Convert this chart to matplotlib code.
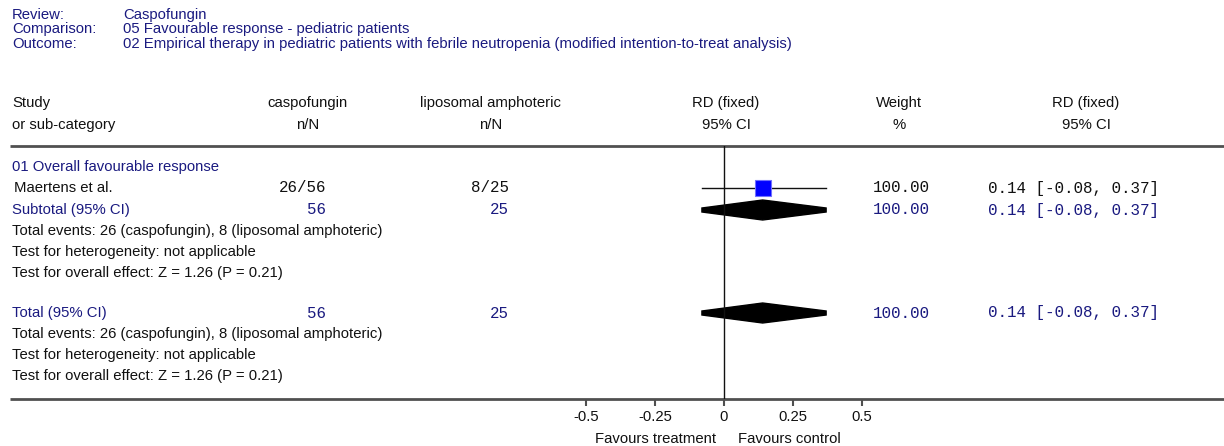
import matplotlib
matplotlib.use("Agg")
import matplotlib.pyplot as plt
from matplotlib.patches import Polygon

# review info
meta_labels = ["Review:", "Comparison:", "Outcome:"]
meta_values = ["Caspofungin",
               "05 Favourable response - pediatric patients",
               "02 Empirical therapy in pediatric patients with febrile neutropenia "
               "(modified intention-to-treat analysis)"]

# study data
group_name = "01 Overall favourable response"
studies = ["Maertens et al."]
events_t = [26]
n_t = [56]
events_c = [8]
n_c = [25]
rd = [0.14]
ci_lo = [-0.08]
ci_hi = [0.37]
weights = [100.00]

# pooled
pooled_rd = 0.14
pooled_lo = -0.08
pooled_hi = 0.37
pooled_w = 100.00
z_val = 1.26
p_val = 0.21
treat_name = "caspofungin"
ctrl_name = "liposomal amphoteric"

ticks = [-0.5, -0.25, 0, 0.25, 0.5]
tick_labels = ["-0.5", "-0.25", "0", "0.25", "0.5"]

W, H = 1224, 446
NAVY = "#1a1a80"
BLACK = "#111111"
LINE = "#505050"
SANS = "Liberation Sans"
MONO = "Liberation Mono"
FS = 10.7
FM = 11.4

fig = plt.figure(figsize=(W / 100, H / 100), dpi=100)
bg = fig.add_axes([0, 0, 1, 1])
bg.set_xlim(0, W)
bg.set_ylim(H, 0)
bg.axis("off")


def txt(x, y, s, color=BLACK, ha="left", mono=False):
    bg.text(x, y, s, color=color, ha=ha, va="center",
            family=MONO if mono else SANS, fontsize=FM if mono else FS)


# header block
for i, (lab, val) in enumerate(zip(meta_labels, meta_values)):
    y = 15 + 14.5 * i
    txt(12, y, lab, NAVY)
    txt(123, y, val, NAVY)

# column headers
txt(12, 103, "Study")
txt(12, 125, "or sub-category")
txt(308, 103, treat_name, ha="center")
txt(308, 125, "n/N", ha="center")
txt(491, 103, ctrl_name, ha="center")
txt(491, 125, "n/N", ha="center")
txt(726, 103, "RD (fixed)", ha="center")
txt(726, 125, "95% CI", ha="center")
txt(899, 103, "Weight", ha="center")
txt(899, 125, "%", ha="center")
txt(1086, 103, "RD (fixed)", ha="center")
txt(1086, 125, "95% CI", ha="center")

bg.plot([10, W], [146, 146], color=LINE, lw=2, solid_capstyle="butt")
bg.plot([10, W], [399, 399], color=LINE, lw=2, solid_capstyle="butt")


def ci_str(e, lo, hi):
    return f"{e:.2f} [{lo:.2f}, {hi:.2f}]"


# rows
study_y = [188]
sub_y = 210
tot_y = 313

txt(12, 167, group_name, NAVY)
for i, s in enumerate(studies):
    y = study_y[i]
    txt(14, y, s)
    txt(326, y, f"{events_t[i]}/{n_t[i]}", ha="right", mono=True)
    txt(509, y, f"{events_c[i]}/{n_c[i]}", ha="right", mono=True)
    txt(873, y, f"{weights[i]:.2f}", mono=True)
    txt(988, y, ci_str(rd[i], ci_lo[i], ci_hi[i]), mono=True)


def summary_block(y0, label):
    txt(12, y0, label, NAVY)
    txt(326, y0, f"{sum(n_t)}", NAVY, ha="right", mono=True)
    txt(509, y0, f"{sum(n_c)}", NAVY, ha="right", mono=True)
    txt(873, y0, f"{pooled_w:.2f}", NAVY, mono=True)
    txt(988, y0, ci_str(pooled_rd, pooled_lo, pooled_hi), NAVY, mono=True)
    txt(12, y0 + 21, f"Total events: {sum(events_t)} ({treat_name}), "
                     f"{sum(events_c)} ({ctrl_name})")
    txt(12, y0 + 42, "Test for heterogeneity: not applicable")
    txt(12, y0 + 63, f"Test for overall effect: Z = {z_val:.2f} (P = {p_val:.2f})")


summary_block(sub_y, "Subtotal (95% CI)")
summary_block(tot_y, "Total (95% CI)")

# forest axes: x in RD units, y in pixel rows
x0, x1 = 586, 862
ax = fig.add_axes([x0 / W, (H - 399) / H, (x1 - x0) / W, (399 - 146) / H])
ax.set_xlim(-0.5, 0.5)
ax.set_ylim(399, 146)
ax.patch.set_alpha(0)
for sp in ax.spines.values():
    sp.set_visible(False)
ax.set_yticks([])
ax.set_xticks(ticks)
ax.set_xticklabels(tick_labels, family=SANS, fontsize=FS, color=BLACK)
ax.tick_params(axis="x", direction="out", length=5, width=1.5, color=LINE, pad=3)
ax.axvline(0, color=BLACK, lw=1)

for i in range(len(studies)):
    ax.plot([ci_lo[i], ci_hi[i]], [study_y[i], study_y[i]], color=BLACK, lw=1)
    ax.plot(rd[i], study_y[i], marker="s", ms=12, color="#0000ff",
            mec="#7070ff", mew=0.8)

# pooled diamonds with blunt tips
for y in [sub_y, tot_y]:
    ax.add_patch(Polygon([(pooled_lo, y - 2), (pooled_rd, y - 10),
                          (pooled_hi, y - 2), (pooled_hi, y + 2),
                          (pooled_rd, y + 10), (pooled_lo, y + 2)],
                         closed=True, color="black"))

bg.text(716, 439, "Favours treatment", ha="right", va="center",
        family=SANS, fontsize=FS, color=BLACK)
bg.text(738, 439, "Favours control", ha="left", va="center",
        family=SANS, fontsize=FS, color=BLACK)

fig.savefig("out.png", dpi=100)
